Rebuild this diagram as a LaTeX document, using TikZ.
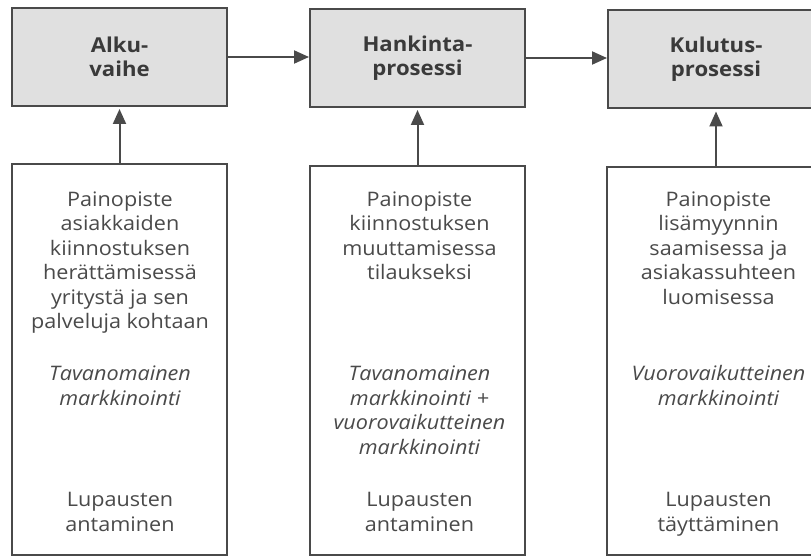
\documentclass[tikz,border=0pt]{standalone}
\usepackage{fontspec}
\setmainfont{Open Sans}[FakeStretch=1.08]
\usetikzlibrary{arrows.meta}
\definecolor{linegray}{HTML}{4A4A4A}
\definecolor{boxgray}{HTML}{E0E0E0}
\definecolor{textgray}{HTML}{4A4A4A}
\definecolor{textdark}{HTML}{3A3A3A}
\newcommand{\blk}[1]{\begin{tabular}[t]{@{}c@{}}#1\end{tabular}}
\begin{document}
\begin{tikzpicture}[x=1pt,y=-1pt,
  phasebox/.style={draw=linegray, line width=2pt, fill=boxgray, minimum width=215pt, minimum height=98pt, inner sep=0pt, align=center, text=textdark, font=\bfseries\fontsize{20.5}{24}\selectfont},
  infobox/.style={draw=linegray, line width=2pt, fill=white, minimum width=215pt, inner sep=0pt},
  bodytext/.style={anchor=base, inner sep=0pt, text=textgray, font=\fontsize{20}{24.5}\selectfont},
  conn/.style={draw=linegray, line width=2pt, -{Triangle[length=15pt,width=13pt]}}
]
\useasboundingbox (0,0) rectangle (811,556);
\clip (0,0) rectangle (811,556);
\node[phasebox] (a) at (119.5,57) {Alku-\\vaihe};
\node[phasebox] (b) at (417.5,58) {Hankinta-\\prosessi};
\node[phasebox, minimum width=216pt] (c) at (716,59.5) {Kulutus-\\prosessi};
\node[infobox, minimum height=391pt] (p) at (119.5,359.5) {};
\node[infobox, minimum height=389pt] (q) at (417.5,360.5) {};
\node[infobox, minimum height=388pt, minimum width=218pt] (r) at (716,361) {};
\draw[conn] (a.east) -- (a.east -| b.west);
\draw[conn] (b.east) -- (b.east -| c.west);
\draw[conn, shorten >=2pt] (p.north) -- (a.south);
\draw[conn, shorten >=2pt] (q.north) -- (b.south);
\draw[conn, shorten >=2pt] (r.north) -- (c.south);
% left column texts
\node[bodytext] (p1) at (120,206.5) {\blk{Painopiste\\asiakkaiden\\kiinnostuksen\\herättämisessä\\yritystä ja sen\\palveluja kohtaan}};
\node[bodytext] (p2) at (120,380.5) {\blk{\itshape Tavanomainen\\\itshape markkinointi}};
\node[bodytext] (p3) at (120,506.5) {\blk{Lupausten\\antaminen}};
% middle column texts
\node[bodytext] (q1) at (419.5,206.5) {\blk{Painopiste\\kiinnostuksen\\muuttamisessa\\tilaukseksi}};
\node[bodytext] (q2) at (419.5,380.5) {\blk{\itshape Tavanomainen\\\itshape markkinointi +\\\itshape vuorovaikutteinen\\\itshape markkinointi}};
\node[bodytext] (q3) at (419.5,506.5) {\blk{Lupausten\\antaminen}};
% right column texts
\node[bodytext] (r1) at (718.5,206.5) {\blk{Painopiste\\lisämyynnin\\saamisessa ja\\asiakassuhteen\\luomisessa}};
\node[bodytext] (r2) at (718.5,380.5) {\blk{\itshape Vuorovaikutteinen\\\itshape markkinointi}};
\node[bodytext] (r3) at (718.5,506.5) {\blk{Lupausten\\täyttäminen}};
\end{tikzpicture}
\end{document}
